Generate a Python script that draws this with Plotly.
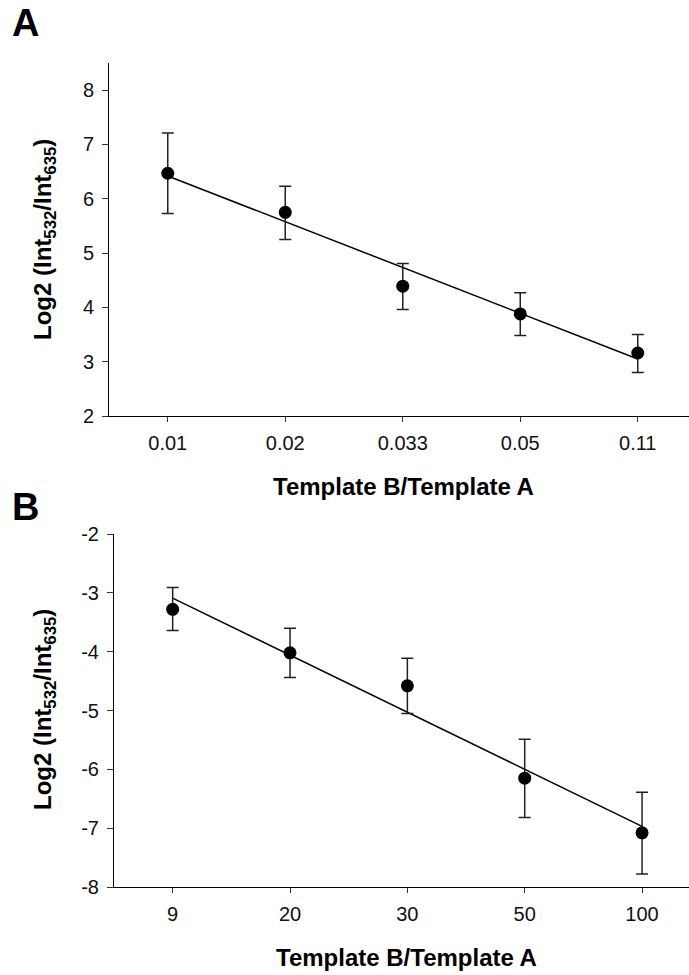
import plotly.graph_objects as go

W, H = 689, 975

# ---- Panel A data ----
cats_a = ["0.01", "0.02", "0.033", "0.05", "0.11"]
y_a = [6.47, 5.75, 4.39, 3.88, 3.16]
top_a = [7.21, 6.23, 4.81, 4.27, 3.50]
bot_a = [5.73, 5.25, 3.96, 3.48, 2.80]
fit_a = [6.42, 3.05]
yticks_a = [2, 3, 4, 5, 6, 7, 8]
ylabels_a = ["2", "3", "4", "5", "6", "7", "8"]

# ---- Panel B data ----
cats_b = ["9", "20", "30", "50", "100"]
y_b = [-3.28, -4.02, -4.58, -6.15, -7.08]
top_b = [-2.91, -3.60, -4.11, -5.49, -6.39]
bot_b = [-3.64, -4.44, -5.05, -6.82, -7.78]
fit_b = [-3.09, -6.97]
yticks_b = [-8, -7, -6, -5, -4, -3, -2]
ylabels_b = ["-8", "-7", "-6", "-5", "-4", "-3", "-2"]

FONT = "Liberation Sans, Arial, sans-serif"


def px(xp):
    return xp / W


def py(yp):
    return 1 - yp / H


fig = go.Figure()


def add_panel(cats, y, top, bot, fit, xa, ya):
    plus = [t - v for t, v in zip(top, y)]
    minus = [v - b for b, v in zip(bot, y)]
    fig.add_trace(go.Scatter(
        x=[cats[0], cats[-1]], y=fit, mode="lines",
        line=dict(color="black", width=1.5),
        xaxis=xa, yaxis=ya, showlegend=False, hoverinfo="skip"))
    fig.add_trace(go.Scatter(
        x=cats, y=y, mode="markers",
        marker=dict(color="black", size=13, symbol="circle"),
        error_y=dict(type="data", symmetric=False, array=plus, arrayminus=minus,
                     color="#222222", thickness=1.5, width=6),
        xaxis=xa, yaxis=ya, showlegend=False))


add_panel(cats_a, y_a, top_a, bot_a, fit_a, "x", "y")
add_panel(cats_b, y_b, top_b, bot_b, fit_b, "x2", "y2")

axis_common = dict(showline=True, linecolor="black", linewidth=1, showgrid=False,
                   zeroline=False, ticks="outside", tickcolor="#333333",
                   automargin=False, ticklabelstandoff=4,
                   tickfont=dict(family=FONT, size=20, color="#111111"))

fig.update_layout(
    width=W, height=H,
    margin=dict(l=0, r=0, t=0, b=0, pad=0, autoexpand=False),
    showlegend=False,
    plot_bgcolor="white", paper_bgcolor="white",
    xaxis=dict(domain=[px(109), 1], anchor="y", type="category",
               categoryorder="array", categoryarray=cats_a,
               range=[-0.5, 4.436], ticklen=5, **axis_common),
    yaxis=dict(domain=[py(416), py(63)], anchor="x", range=[2, 8.5],
               tickmode="array", tickvals=yticks_a, ticktext=ylabels_a,
               ticklen=6, **axis_common),
    xaxis2=dict(domain=[px(114), 1], anchor="y2", type="category",
                categoryorder="array", categoryarray=cats_b,
                range=[-0.5, 4.40], ticklen=5, **axis_common),
    yaxis2=dict(domain=[py(887), py(534)], anchor="x2", range=[-8, -2],
                tickmode="array", tickvals=yticks_b, ticktext=ylabels_b,
                ticklen=6, **axis_common),
)

ytitle = "Log2 (Int<sub>532</sub>/Int<sub>635</sub>)"
xtitle = "Template B/Template A"
ann = []
# panel letters
ann.append(dict(text="<b>A</b>", x=px(10), y=py(0), xanchor="left", yanchor="top"))
ann.append(dict(text="<b>B</b>", x=px(10), y=py(484), xanchor="left", yanchor="top"))
for a in ann:
    a.update(xref="paper", yref="paper", showarrow=False,
             font=dict(family=FONT, size=38, color="black"))
titles = [
    dict(text="<b>" + xtitle + "</b>", x=px(403), y=py(486), xanchor="center", yanchor="middle"),
    dict(text="<b>" + xtitle + "</b>", x=px(407), y=py(957), xanchor="center", yanchor="middle"),
    dict(text="<b>" + ytitle + "</b>", x=px(44), y=py(240), xanchor="center", yanchor="middle", textangle=-90),
    dict(text="<b>" + ytitle + "</b>", x=px(44), y=py(710), xanchor="center", yanchor="middle", textangle=-90),
]
for t in titles:
    t.update(xref="paper", yref="paper", showarrow=False,
             font=dict(family=FONT, size=24, color="black"))
fig.update_layout(annotations=ann + titles)

fig.write_html("out.html")
